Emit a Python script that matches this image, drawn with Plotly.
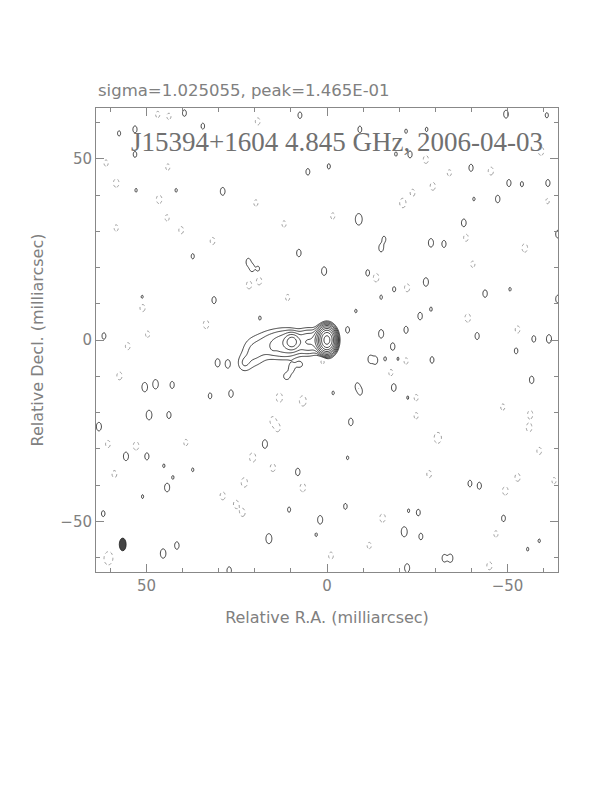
import numpy as np
import plotly.graph_objects as go

# Source model components (relative intensity in units of the lowest contour)
src_ra = [0.0, 1.5, 5.0, 9.7, 11.0, 15.5, 20.5, 23.0, 15.0, 11.2, 9.8, 7.6]
src_dec = [0.0, 0.0, -0.5, -0.5, -1.0, -1.2, -3.5, -6.5, -2.3, -10.0, -7.8, -6.8]
src_amp = [700.0, 30.0, 8.0, 20.0, 6.0, 2.8, 2.1, 1.6, 0.8, 1.5, 1.5, 1.4]
src_sx = [1.0, 1.1, 2.0, 1.1, 2.5, 2.8, 2.2, 1.3, 0.6, 0.9, 0.8, 0.9]
src_sy = [1.45, 1.5, 1.9, 1.2, 2.2, 2.5, 2.8, 1.6, 0.8, 1.0, 1.2, 0.8]

# Positive noise peaks (solid contours): position and peak
pos_ra = [39.5, 34.4, 7.5, 57.6, 53.2, 53.2, 5.3, -0.5, 28.9, 41.8, 52.9, 37.2,
          21.8, 20.8, 19.1, 7.8, 0.8, 31.3, 61.8, 51.2, 18.6, -49.6, -60.9, -9.1,
          -21.9, -27.6, -19.1, -23.0, -39.9, -50.4, -54.0, -61.2, -47.3, -40.7,
          -8.8, -37.9, -28.8, -32.4, -15.0, -15.8, -11.3, -27.4, -18.6, -15.0,
          -43.8, -50.7, -64.0, -8.0, -25.8, -28.8, -5.7, -15.0, -21.9, -41.6,
          -57.3, -61.5, -64.0, 30.3, 27.5, 50.5, 47.5, 42.9, 32.4, 26.6, 49.3,
          43.8, 63.2, -1.7, 17.2, 55.7, 49.9, 37.2, 44.3, 51.1, 62.0, 8.1, 10.5,
          1.9, 16.1, 3.0, 41.6, 45.4, 27.1, 42.7, 45.2, -18.2, -52.4, -12.0,
          -13.4, -16.1, -19.7, -29.1, -8.4, -9.2, -18.5, -56.7, -22.4, -6.6,
          -5.7, -39.6, -42.2, -5.1, -25.3, -22.6, -48.9, -21.4, -26.0, -32.5,
          -34.2, -22.2, -58.8, -55.6]
pos_dec = [62.6, 59.0, 62.0, 57.0, 58.1, 51.2, 46.4, 47.9, 41.0, 41.3, 41.3, 23.1,
           21.5, 19.9, 19.6, 24.0, 19.0, 11.0, 1.1, 11.8, 6.1, 62.3, 62.0, 58.1,
           57.6, 58.1, 51.3, 51.2, 47.5, 43.3, 43.0, 43.3, 38.9, 38.9,
           33.3, 32.3, 26.8, 26.5, 25.4, 27.8, 18.5, 16.0, 14.0, 11.8,
           12.8, 14.0, 11.3, 8.0, 6.6, 8.5, 2.8, 1.7, 2.8, 1.1,
           0.3, 0.3, 29.2, -6.3, -6.6, -13.0, -12.2, -12.4, -15.4, -14.8, -20.7,
           -20.7, -23.9, -14.6, -28.7, -32.1, -32.1, -35.8, -40.7, -43.2, -47.9, -36.4, -46.8,
           -49.6, -54.8, -53.7, -56.7, -58.9, -63.6, -37.9, -34.7, -1.8, -3.0, -5.3,
           -5.6, -5.2, -5.2, -5.5, -12.8, -14.2, -13.1, -11.0, -15.9, -22.6,
           -32.5, -39.6, -40.2, -45.9, -47.6, -47.1, -49.2, -52.9, -54.2, -60.2,
           -60.2, -62.9, -55.4, -57.7]
pos_amp = [1.5, 1.4, 1.5, 1.3, 1.6, 1.4, 1.5, 1.3, 1.8, 1.15, 1.15, 1.3,
           1.7, 1.7, 1.3, 1.7, 2.0, 1.6, 1.5, 1.2, 1.15, 1.8, 1.3, 1.5,
           1.2, 1.2, 1.2, 1.6, 1.6, 1.6, 1.3, 1.6, 1.7, 1.15,
           3.5, 1.8, 2.0, 1.6, 1.8, 1.4, 1.5, 2.0, 1.3, 1.2,
           1.7, 1.15, 1.8, 1.15, 1.7, 1.2, 1.5, 2.0, 1.6, 1.6,
           1.5, 2.0, 1.8, 1.9, 2.0, 2.3, 2.3, 1.6, 1.4, 1.7, 2.4,
           1.6, 2.0, 1.15, 2.0, 2.0, 1.6, 1.15, 2.0, 1.15, 1.4, 1.7, 1.3,
           2.0, 2.6, 1.15, 1.7, 2.3, 1.7, 1.15, 1.15, 1.7, 1.4, 1.8,
           1.8, 1.2, 1.15, 1.5, 1.6, 1.6, 1.8, 1.7, 1.15, 1.7,
           1.15, 1.5, 1.6, 1.4, 1.5, 1.15, 1.5, 2.6, 1.5, 1.7,
           1.9, 2.0, 1.15, 1.15]

# Negative noise troughs (dotted contours): position and depth
neg_ra = [46.9, 43.8, 19.2, 61.2, 44.1, 58.4, 46.5, 19.7, 44.3, 58.4, 40.4, 31.7,
          18.8, 21.6, 10.9, 51.1, 33.5, -1.6, 11.9, 49.7, -59.3, -27.4, -45.4,
          -33.9, -29.3, -23.7, -21.0, -38.5, -54.8, -40.4, -13.6, -22.2, -39.0,
          -52.8, -61.1, 55.2, 57.5, 13.2, 6.7, 15.0, 13.7, 39.1, 52.9, 20.6,
          15.0, 22.9, 6.7, 28.9, 25.2, 23.4, 58.9, 60.7, 1.2, -21.9, -17.7,
          -24.7, -24.7, -30.7, -48.7, -56.3, -56.0, -58.8, -28.3, -52.8, -49.4,
          -15.4, -46.8, -11.7, -1.1, -45.0, -62.9, 60.7, 60.4]
neg_dec = [62.2, 61.7, 60.3, 48.8, 47.7, 43.3, 38.8, 37.8, 33.7, 30.9, 30.3, 27.3,
           16.3, 15.2, 11.7, 8.9, 4.3, 34.2, 32.0, 1.6, 52.1, 49.8, 46.6,
           46.1, 42.4, 40.6, 37.8, 28.2, 25.4, 20.9, 17.2, 14.4, 6.1,
           2.9, 38.3, -1.7, -9.9, -15.9, -16.8, -22.3, -24.2, -28.3, -29.2, -32.4,
           -35.2, -39.3, -40.7, -43.0, -45.3, -47.6, -37.0, -60.4, -5.8, -5.8, -9.0,
           -15.9, -20.9, -27.0, -18.5, -20.5, -24.2, -30.6, -37.0, -37.9, -41.6,
           -49.1, -53.5, -56.7, -59.5, -62.3, -38.8, -28.7, -60.0]
neg_amp = [1.3, 1.3, 1.4, 1.3, 1.3, 1.6, 1.6, 1.3, 1.3, 1.3, 1.4, 1.4,
           1.5, 1.5, 1.3, 1.5, 1.6, 1.3, 1.3, 1.3, 1.6, 1.5, 1.5,
           1.3, 1.5, 1.4, 1.8, 1.4, 1.6, 1.3, 1.6, 1.5, 1.6,
           1.4, 1.2, 1.4, 1.5, 1.8, 2.0, 1.6, 1.5, 1.3, 1.6, 1.8,
           1.5, 1.8, 1.6, 1.5, 1.5, 1.5, 1.4, 1.6, 1.3, 1.3, 1.3,
           1.3, 1.3, 2.2, 1.3, 1.5, 1.6, 1.4, 1.4, 1.5, 1.6,
           1.6, 1.3, 1.3, 1.4, 1.5, 1.3, 1.4, 1.6]

# Restoring beam (mas)
beam_ra = [56.6]
beam_dec = [-56.4]
beam_width = [1.9]
beam_height = [3.5]

x_ticks = [50, 0, -50]
y_ticks = [-50, 0, 50]
sigma_text = "sigma=1.025055, peak=1.465E-01"
map_title = "J15394+1604 4.845 GHz, 2006-04-03"

# ---------------- build the brightness grid ----------------
step = 0.25
ra_grid = np.arange(-64.0, 64.0 + step / 2, step)
dec_grid = np.arange(-64.0, 64.0 + step / 2, step)
RA, DEC = np.meshgrid(ra_grid, dec_grid)
field = np.zeros_like(RA)

NOISE_CAP = 1.85  # noise peaks never reach the second contour


def add_component(ra0, dec0, amp, sx, sy):
    global field
    field += amp * np.exp(-0.5 * ((RA - ra0) / sx) ** 2 - 0.5 * ((DEC - dec0) / sy) ** 2)


def add_noise(ra0, dec0, amp, sx, sy, sign):
    # keep the same first-contour footprint while capping the peak
    a_eff = min(amp, NOISE_CAP)
    scale = np.sqrt(np.log(amp) / np.log(a_eff)) if amp > a_eff else 1.0
    add_component(ra0, dec0, sign * a_eff, sx * scale, sy * scale)


for r, d, a, sx, sy in zip(src_ra, src_dec, src_amp, src_sx, src_sy):
    add_component(r, d, a, sx, sy)
for r, d, a in zip(pos_ra, pos_dec, pos_amp):
    add_noise(r, d, a, 0.6, 1.0, 1.0)
for r, d, a in zip(neg_ra, neg_dec, neg_amp):
    add_noise(r, d, a, 0.8, 1.2, -1.0)

z_pos = np.log2(np.clip(field, 1e-3, None))
z_neg = -field

fig = go.Figure()
fig.add_trace(go.Contour(
    x=ra_grid, y=dec_grid, z=z_pos,
    contours=dict(start=0, end=9, size=1, coloring="lines"),
    colorscale=[[0, "#111111"], [1, "#111111"]],
    showscale=False, line=dict(width=0.8, smoothing=1.0),
    hoverinfo="skip",
))
fig.add_trace(go.Contour(
    x=ra_grid, y=dec_grid, z=z_neg,
    contours=dict(start=1, end=1.5, size=1, coloring="lines"),
    colorscale=[[0, "#999999"], [1, "#999999"]],
    showscale=False, line=dict(width=1, dash="dot", smoothing=1.0),
    hoverinfo="skip",
))

for r, d, w, h in zip(beam_ra, beam_dec, beam_width, beam_height):
    fig.add_shape(type="circle", xref="x", yref="y",
                  x0=r - w / 2, x1=r + w / 2, y0=d - h / 2, y1=d + h / 2,
                  fillcolor="#444444", line=dict(width=0.8, color="#222222"))

SANS = "DejaVu Sans"
axis_common = dict(
    showgrid=False, zeroline=False, showline=True, linecolor="#888888", linewidth=1,
    mirror="allticks", ticks="inside", ticklen=8, tickcolor="#888888", tickwidth=1,
    minor=dict(dtick=10, ticks="inside", ticklen=4, tickcolor="#888888", tickwidth=1),
    tickfont=dict(family=SANS, size=15, color="#808080"),
    automargin=False,
)

fig.update_xaxes(range=[64, -64], tickvals=x_ticks,
                 title=dict(text="Relative R.A. (milliarcsec)",
                            font=dict(family=SANS, size=16, color="#808080"),
                            standoff=17),
                 **axis_common)
fig.update_yaxes(range=[-64, 64], tickvals=y_ticks,
                 title=dict(text="Relative Decl. (milliarcsec)",
                            font=dict(family=SANS, size=16, color="#808080"),
                            standoff=12),
                 **axis_common)

fig.add_annotation(text=sigma_text, xref="paper", yref="paper", x=0.0, y=1.037,
                   xanchor="left", yanchor="middle", showarrow=False,
                   font=dict(family=SANS, size=16.5, color="#808080"))
fig.add_annotation(text=map_title, xref="paper", yref="paper", x=0.522, y=0.927,
                   xanchor="center", yanchor="middle", showarrow=False,
                   font=dict(family="Liberation Serif", size=27, color="#707070"))

# page body adds an 8 px offset, so margins are reduced accordingly
fig.update_layout(
    width=612, height=792,
    margin=dict(l=88, r=62, t=100, b=228, autoexpand=False),
    paper_bgcolor="white", plot_bgcolor="white",
    showlegend=False,
)

fig.write_html("out.html")
